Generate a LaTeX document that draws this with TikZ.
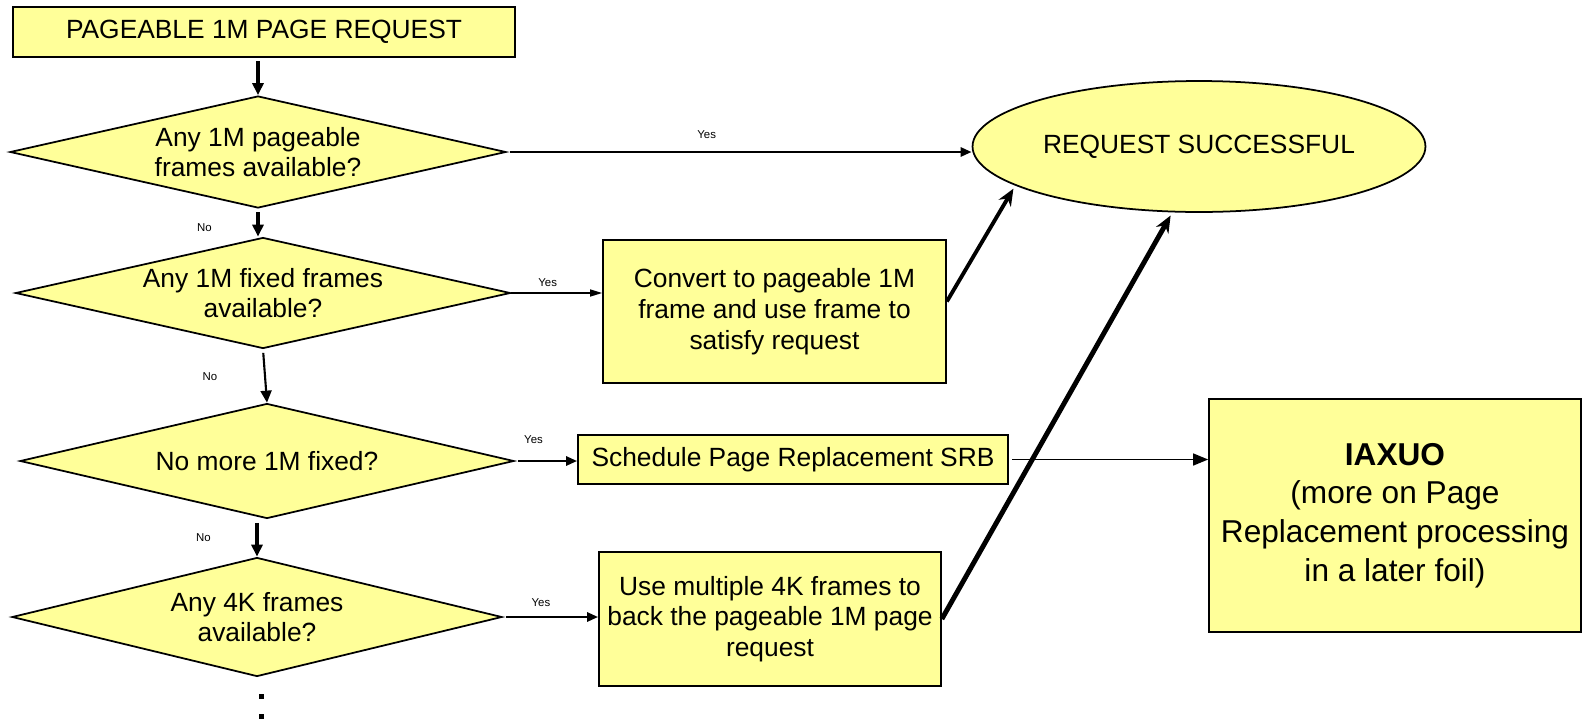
\documentclass[tikz,border=0pt]{standalone}
\usepackage{fontspec}
\setmainfont{Liberation Sans}
\usepackage{xcolor}
\definecolor{boxFill}{HTML}{FFFF99}
\usepackage{tikz}
\usetikzlibrary{%
    shapes,
    shapes.geometric,
    arrows.meta,
    positioning,
    calc
}

\begin{document}
\begin{tikzpicture}[x=0.02cm, y=-0.02cm,
                font=\fontsize{15}{17.5}\selectfont,
                stage/.style={rectangle, fill=boxFill, draw, line width=1pt, text centered, align=center, inner sep=0pt},
                decision/.style={diamond, fill=boxFill, draw, line width=1pt, text centered, align=center, inner sep=0pt},
                outcome/.style={ellipse, fill=boxFill, draw, line width=1pt, inner sep=0pt, minimum width=9.06cm, minimum height=2.62cm},
                answer/.style={font=\fontsize{6.5}{7}\selectfont, inner sep=1pt},
                dotmark/.style={rectangle, fill=black, inner sep=0pt, minimum size=0.1cm},
                flow/.style={draw, line width=1.8pt, shorten <=2pt, -{Triangle[length=0.24cm, width=0.22cm]}},
                yes_flow/.style={draw, line width=1.5pt, shorten <=2pt, -{Triangle[length=0.22cm, width=0.18cm]}},
                thin_flow/.style={draw, line width=0.8pt, -{Triangle[length=0.24cm, width=0.14cm]}},
                signal/.style={draw, line width=0.8pt, shorten <=2pt, -{Triangle[length=0.3cm, width=0.24cm]}},
                success_flow/.style={draw, line width=2.2pt, shorten >=2pt, -{Stealth[length=0.34cm, width=0.28cm]}}
            ]

            \useasboundingbox (0,0) rectangle (1587,721);

            \node (request) at (264,32) [stage, minimum width=10.04cm, minimum height=1cm] {PAGEABLE 1M PAGE REQUEST};

            \node (anyPageable) at (258,152) [decision, aspect=4.43, minimum width=9.92cm, minimum height=2.24cm] {Any 1M pageable\\frames available?};
            \node (anyFixed) at (263,293) [decision, aspect=4.46, minimum width=9.9cm, minimum height=2.22cm] {Any 1M fixed frames\\available?};
            \node (noMore) at (267,461) [decision, aspect=4.3, minimum width=9.88cm, minimum height=2.3cm] {No more 1M fixed?};
            \node (anyFour) at (257,617) [decision, aspect=4.12, minimum width=9.8cm, minimum height=2.38cm] {Any 4K frames\\available?};
            \node (moreA) at (261,696) [dotmark] {};
            \node (moreB) at (261,716) [dotmark] {};

            \node (success) at (1199,146.5) [outcome] {REQUEST SUCCESSFUL};
            \node (convert) at (774.5,311.5) [stage, minimum width=6.86cm, minimum height=2.86cm] {Convert to pageable 1M\\frame and use frame to\\satisfy request};
            \node (schedule) at (793,459.5) [stage, minimum width=8.6cm, minimum height=0.98cm] {Schedule Page Replacement SRB};
            \node (useFour) at (770,619) [stage, minimum width=6.84cm, minimum height=2.68cm] {Use multiple 4K frames to\\back the pageable 1M page\\request};
            \node (iaxuo) at (1395,515.5) [stage, minimum width=7.44cm, minimum height=4.66cm, font=\fontsize{18}{22}\selectfont] {\textbf{IAXUO}\\(more on Page\\Replacement processing\\in a later foil)};

            \draw [flow] (request.south -| anyPageable.north) -- (anyPageable.north);
            \draw [flow] (anyPageable.south) -- (anyPageable.south |- anyFixed.north) node [answer, pos=0.67, left=0.86cm] {No};
            \draw [flow, line width=1.2pt] (anyFixed.south) -- (noMore.north) node [answer, pos=0.52, left=0.9cm] {No};
            \draw [flow] (noMore.south -| anyFour.north) -- (anyFour.north) node [answer, pos=0.49, left=0.86cm] {No};

            \draw [yes_flow] (anyPageable.east) -- (anyPageable.east -| success.west) node [answer, pos=0.43, above=6pt] {Yes};
            \draw [thin_flow] (anyFixed.east) -- (anyFixed.east -| convert.west) node [answer, pos=0.4, above=2pt] {Yes};
            \draw [yes_flow] (noMore.east) -- (noMore.east -| schedule.west) node [answer, pos=0.3, above=8pt] {Yes};
            \draw [yes_flow] (anyFour.east) -- (anyFour.east -| useFour.west) node [answer, pos=0.4, above=4pt] {Yes};

            \draw [signal] (schedule.east) -- (schedule.east -| iaxuo.west);
            \draw [success_flow] ([yshift=0.2cm]convert.east) -- (success.192);
            \draw [success_flow, line width=2.8pt] (useFour.east) -- (success.248);
        \end{tikzpicture}
\end{document}
